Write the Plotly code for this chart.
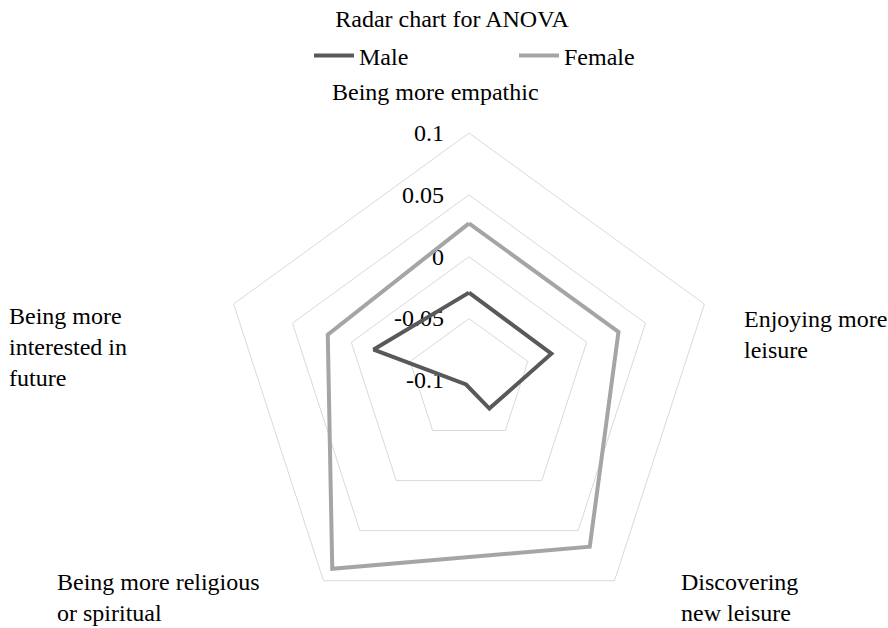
import plotly.graph_objects as go

categories = [
    "Being more empathic",
    "Enjoying more leisure",
    "Discovering new leisure",
    "Being more religious or spiritual",
    "Being more interested in future",
]
category_text = [
    "Being more empathic",
    "Enjoying more<br>leisure",
    "Discovering<br>new leisure",
    "Being more religious<br>or spiritual",
    "Being more<br>interested in<br>future",
]
male = [-0.029, -0.030, -0.072, -0.096, -0.019]
female = [0.027, 0.027, 0.066, 0.088, 0.020]
tick_vals = [-0.1, -0.05, 0, 0.05, 0.1]
tick_text = ["-0.1", "-0.05", "0", "0.05", "0.1"]

# layout positions of the category labels (pixels from top-left) and alignment
label_pos = [(435, 92, "center"), (742, 334, "left"), (679, 597, "left"),
             (55, 597, "left"), (7, 347, "left")]

FONT = "Liberation Serif"
FS = 24
W, H = 888, 628

fig = go.Figure()
fig.add_trace(go.Scatterpolar(
    r=male + male[:1], theta=categories + categories[:1], name="Male",
    mode="lines", line=dict(color="#595959", width=4),
))
fig.add_trace(go.Scatterpolar(
    r=female + female[:1], theta=categories + categories[:1], name="Female",
    mode="lines", line=dict(color="#A5A5A5", width=4),
))

annotations = []
for txt, (px, py, al) in zip(category_text, label_pos):
    annotations.append(dict(
        text=txt, x=px / W, y=1 - py / H, xref="paper", yref="paper",
        xanchor=al, yanchor="middle", align=al, showarrow=False,
        font=dict(family=FONT, size=FS, color="#000000"),
    ))

fig.update_layout(
    width=W, height=H,
    margin=dict(l=0, r=0, t=0, b=0),
    paper_bgcolor="white", plot_bgcolor="white",
    font=dict(family=FONT, size=FS, color="#000000"),
    title=dict(text="Radar chart for ANOVA", x=452 / W, xanchor="center",
               y=1 - 19 / H, yanchor="middle", yref="container",
               font=dict(family=FONT, size=FS, color="#000000")),
    legend=dict(orientation="h", x=309 / W, xanchor="left", y=1 - 56 / H, yanchor="middle",
                font=dict(family=FONT, size=FS, color="#000000"),
                itemwidth=40, entrywidth=150, entrywidthmode="pixels",
                bgcolor="rgba(0,0,0,0)"),
    annotations=annotations,
    polar=dict(
        domain=dict(x=[(469 - 260) / W, (469 + 260) / W], y=[0, 1 - 133 / H]),
        gridshape="linear",
        bgcolor="white",
        angularaxis=dict(
            rotation=90, direction="clockwise", type="category",
            categoryarray=categories,
            showgrid=False, showline=True, linecolor="#D9D9D9", linewidth=1,
            showticklabels=False, ticks="",
        ),
        radialaxis=dict(
            range=[-0.1, 0.1], angle=90, tickangle=90,
            tickvals=tick_vals, ticktext=tick_text,
            showline=False, showgrid=True, gridcolor="#D9D9D9", gridwidth=1,
            ticks="outside", ticklen=16, tickcolor="rgba(0,0,0,0)",
            side="counterclockwise",
            tickfont=dict(family=FONT, size=FS, color="#000000"),
            layer="below traces",
        ),
    ),
)

fig.write_html("out.html", config={"displayModeBar": False},
               post_script="document.body.style.margin='0';")
